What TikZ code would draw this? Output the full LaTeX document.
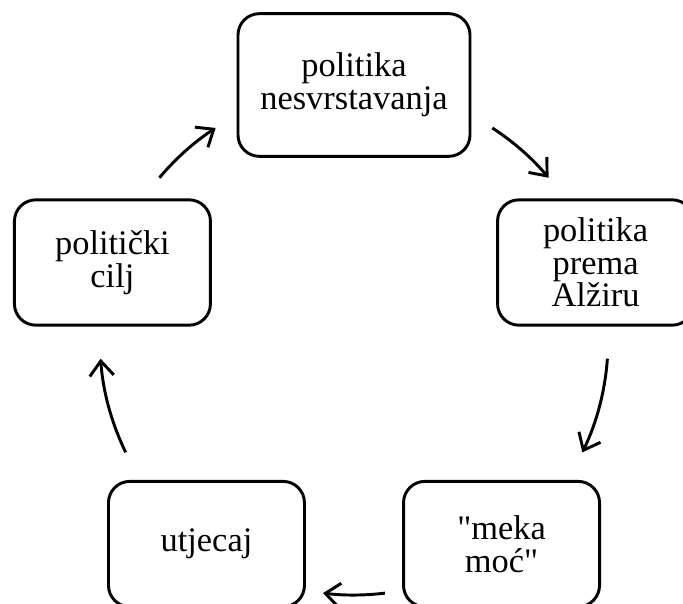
\documentclass[tikz,border=0pt]{standalone}
\usepackage{fontspec}
\setmainfont{Liberation Serif}[Ligatures=TeXOff]
\usetikzlibrary{arrows.meta}

\begin{document}
\begin{tikzpicture}[x=0.75pt,y=0.75pt,
    box/.style={draw, line width=2.2pt, rounded corners=16pt, align=center,
      inner sep=0pt, font=\fontsize{25.8}{24.5}\selectfont},
    small/.style={minimum width=147pt, minimum height=94pt},
    cyc/.style={line width=2.2pt, -{Straight Barb[length=11pt,width=18pt]}}]
  \useasboundingbox (0,0) rectangle (683,604);
  \clip (0,0) rectangle (683,604);
  \coordinate (c) at (354,263);

  % the five stations of the cycle
  \node[box, minimum width=174pt, minimum height=107pt] (nesvrst)
      at ([shift={(90:256)}]c) {politika\\nesvrstavanja};
  \node[box, small] (alzir)  at ([shift={(18:254)}]c)   {politika\\prema\\Alžiru};
  \node[box, small] (moc)    at ([shift={(-54:251)}]c)  {"meka\\moć"};
  \node[box, small] (utj)    at ([shift={(-126:251)}]c) {utjecaj};
  \node[box, small] (cilj)   at ([shift={(162:254)}]c)  {politički\\cilj};

  % arcs between them
  \draw[cyc] ([shift={(140:254)}]c) arc[start angle=140, end angle=123, radius=254];
  \draw[cyc] ([shift={(57:254)}]c)  arc[start angle=57,  end angle=40,  radius=254];
  \draw[cyc] ([shift={(-4:254)}]c)  arc[start angle=-4,  end angle=-26, radius=254];
  \draw[cyc] ([shift={(-83:254)}]c) arc[start angle=-83, end angle=-97, radius=254];
  \draw[cyc] ([shift={(206:254)}]c) arc[start angle=206, end angle=184, radius=254];
\end{tikzpicture}
\end{document}
